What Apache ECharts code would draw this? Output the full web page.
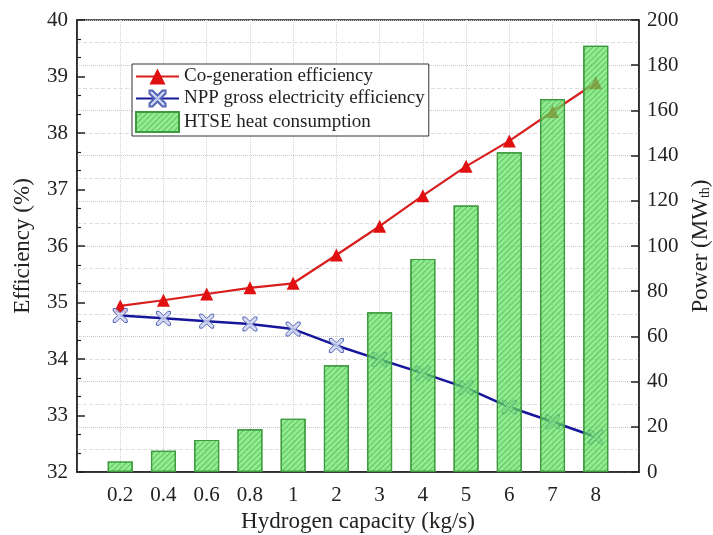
<!DOCTYPE html>
<html>
<head>
<meta charset="utf-8">
<script src="https://cdn.jsdelivr.net/npm/echarts@6/dist/echarts.min.js"></script>
<style>
html,body{margin:0;padding:0;background:#fff;}
#chart{width:713px;height:535px;}
</style>
</head>
<body>
<div id="chart"></div>
<script>
// ---- data ----
const categories = ['0.2','0.4','0.6','0.8','1','2','3','4','5','6','7','8'];
const cogenEfficiency = [34.94, 35.04, 35.15, 35.26, 35.34, 35.84, 36.35, 36.89, 37.41, 37.86, 38.38, 38.89];
const nppEfficiency = [34.77, 34.72, 34.67, 34.62, 34.53, 34.24, 33.99, 33.75, 33.49, 33.15, 32.89, 32.62];
const htseHeat = [4.7, 9.4, 14.2, 18.9, 23.6, 47.2, 70.7, 94.3, 117.9, 141.5, 165.0, 188.6];
const seriesNames = ['Co-generation efficiency', 'NPP gross electricity efficiency', 'HTSE heat consumption'];

// padded category axis (empty slot at each end)
const axisCats = [''].concat(categories, ['']);
const pad = arr => [null].concat(arr, [null]);

const FONT = '"Liberation Serif", "Times New Roman", serif';
const xMark = 'path://M0,0 L3,0 L8,5 L13,0 L16,0 L16,3 L11,8 L16,13 L16,16 L13,16 L8,11 L3,16 L0,16 L0,13 L5,8 L0,3 Z';

const chart = echarts.init(document.getElementById('chart'), null, {renderer: 'canvas'});
chart.setOption({
  animation: false,
  backgroundColor: '#fff',
  textStyle: {fontFamily: FONT, color: '#222'},
  grid: {left: 77, right: 74, top: 20, bottom: 63, containLabel: false, outerBoundsMode: 'none',
    show: true, borderColor: '#222', borderWidth: 1.5, backgroundColor: 'transparent'},
  legend: {
    orient: 'vertical', left: 132, top: 64,
    padding: [3, 4, 3, 3], itemGap: 3,
    itemWidth: 43, itemHeight: 20,
    borderColor: '#333', borderWidth: 1, backgroundColor: '#fff',
    textStyle: {fontFamily: FONT, fontSize: 19, color: '#222'},
    data: [seriesNames[0], seriesNames[1], {name: seriesNames[2], icon: 'rect'}]
  },
  xAxis: {
    type: 'category', data: axisCats, boundaryGap: false,
    name: 'Hydrogen capacity (kg/s)', nameLocation: 'middle', nameGap: 33,
    nameTextStyle: {fontFamily: FONT, fontSize: 23, color: '#222'},
    axisLine: {lineStyle: {color: '#222', width: 1.5}},
    axisTick: {show: false},
    axisLabel: {interval: 0, fontFamily: FONT, fontSize: 21, color: '#222', margin: 13},
    splitLine: {show: true, lineStyle: {color: '#d4d4d4', type: 'dotted', width: 1}}
  },
  yAxis: [
    {
      type: 'value', min: 32, max: 40, interval: 1, position: 'left',
      name: 'Efficiency (%)', nameLocation: 'middle', nameGap: 43,
      nameTextStyle: {fontFamily: FONT, fontSize: 23, color: '#222'},
      axisLine: {show: true, lineStyle: {color: '#222', width: 1.5}},
      axisTick: {show: true, inside: true, length: 8, lineStyle: {color: '#222', width: 1.5}},
      minorTick: {show: true, splitNumber: 3, length: 4, lineStyle: {color: '#222', width: 1.2}},
      axisLabel: {fontFamily: FONT, fontSize: 21, color: '#222', margin: 9},
      splitLine: {show: false}
    },
    {
      type: 'value', min: 0, max: 200, interval: 20, position: 'right',
      name: 'Power (MW{sub|th})', nameLocation: 'middle', nameGap: 47, nameRotate: 90,
      nameTextStyle: {fontFamily: FONT, fontSize: 23, color: '#222',
        rich: {sub: {fontFamily: FONT, fontSize: 14, color: '#222', verticalAlign: 'bottom', padding: [8, 0, 0, 0]}}},
      axisLine: {show: true, lineStyle: {color: '#222', width: 1.5}},
      axisTick: {show: true, inside: true, length: 8, lineStyle: {color: '#222', width: 1.5}},
      minorTick: {show: false, splitNumber: 2},
      axisLabel: {fontFamily: FONT, fontSize: 21, color: '#222', margin: 8},
      splitLine: {show: true, lineStyle: {color: '#c8c8c8', type: 'dotted', width: 1}},
      minorSplitLine: {show: true, lineStyle: {color: '#dedede', type: 'dashed', width: 1}}
    }
  ],
  series: [
    {
      name: seriesNames[0], type: 'line', yAxisIndex: 0, z: 2,
      data: pad(cogenEfficiency),
      symbol: 'triangle', symbolSize: 13,
      lineStyle: {color: '#d81e1e', width: 2.2},
      itemStyle: {color: '#e01010'}
    },
    {
      name: seriesNames[1], type: 'line', yAxisIndex: 0, z: 2,
      data: pad(nppEfficiency),
      symbol: xMark, symbolSize: 14,
      lineStyle: {color: '#16169a', width: 2.5},
      itemStyle: {color: 'rgba(205,212,240,0.85)', borderColor: '#5565b8', borderWidth: 1}
    },
    {
      name: seriesNames[2], type: 'bar', yAxisIndex: 1, z: 3,
      data: pad(htseHeat), barWidth: 25,
      itemStyle: {
        color: 'rgba(100,230,100,0.72)', borderColor: '#3f9a3f', borderWidth: 1.2,
        decal: {symbol: 'rect', symbolSize: 1, dashArrayX: [1, 0], dashArrayY: [1, 3], rotation: -Math.PI / 4, color: 'rgba(20,110,20,0.35)'}
      }
    }
  ]
});
</script>
</body>
</html>
